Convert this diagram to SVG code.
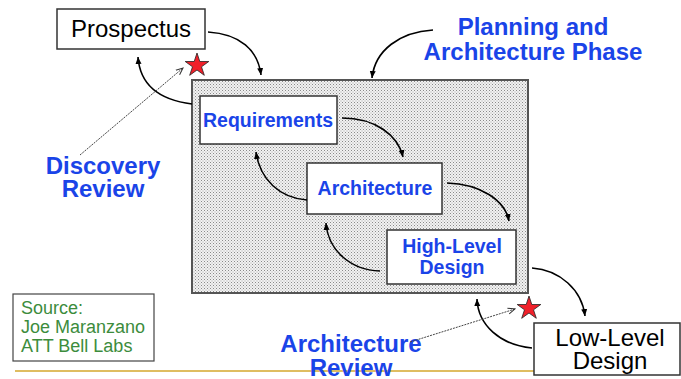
<svg xmlns="http://www.w3.org/2000/svg" width="681" height="379" viewBox="0 0 681 379">
<defs>
<pattern id="dots" width="3" height="3" patternUnits="userSpaceOnUse">
<rect width="3" height="3" fill="#f2f2f2"/>
<rect x="0" y="0" width="1" height="1" fill="#8a8a8a"/>
<rect x="1.5" y="1.5" width="1" height="1" fill="#a8a8a8"/>
</pattern>
<marker id="ah" markerWidth="8" markerHeight="8" refX="7" refY="4" orient="auto" markerUnits="userSpaceOnUse">
<path d="M0,1 L7,4 L0,7 Z" fill="#000"/>
</marker>
<marker id="oh" markerWidth="8" markerHeight="8" refX="7" refY="4" orient="auto" markerUnits="userSpaceOnUse">
<path d="M0,1 L7,4 L0,7" fill="none" stroke="#333" stroke-width="1"/>
</marker>
<style>
.box{fill:#fff;stroke:#333;stroke-width:1.5}
.blue{font-family:"Liberation Sans",Arial,sans-serif;font-weight:bold;fill:#1a44e8;text-anchor:middle}
.blk{font-family:"Liberation Sans",Arial,sans-serif;fill:#000;text-anchor:middle;font-size:24px}
.grn{font-family:"Liberation Sans",Arial,sans-serif;fill:#3c8c3c;font-size:18px}
.c{fill:none;stroke:#000;stroke-width:1.6;marker-end:url(#ah)}
.d{fill:none;stroke:#444;stroke-width:1;stroke-dasharray:2,1;marker-end:url(#oh)}
.star{fill:#f0202a;stroke:#222;stroke-width:0.8}
</style>
</defs>
<line x1="15" y1="371" x2="668" y2="371" stroke="#d4a72c" stroke-width="1.5"/>
<g id="phase">
<rect x="192" y="80" width="336" height="213" fill="url(#dots)" stroke="#555" stroke-width="2"/>
</g>
<g id="prospectus">
<rect class="box" x="57" y="9" width="148" height="40"/>
<text class="blk" x="131" y="37">Prospectus</text>
</g>
<g id="requirements">
<rect class="box" x="200" y="96" width="137" height="48"/>
<text class="blue" x="268" y="127" font-size="19.5">Requirements</text>
</g>
<g id="architecture">
<rect class="box" x="307" y="163" width="135" height="51"/>
<text class="blue" x="375" y="195" font-size="19.5">Architecture</text>
</g>
<g id="hld">
<rect class="box" x="387" y="230" width="129" height="54"/>
<text class="blue" x="452" y="253" font-size="19.5">High-Level</text>
<text class="blue" x="452" y="274" font-size="19.5">Design</text>
</g>
<g id="lld">
<rect class="box" x="534" y="323" width="146" height="52"/>
<text class="blk" x="610" y="346">Low-Level</text>
<text class="blk" x="610" y="369">Design</text>
</g>
<g id="source">
<rect x="13" y="294" width="141" height="67" fill="#fff" stroke="#444" stroke-width="1.2"/>
<text class="grn" x="21" y="314">Source:</text>
<text class="grn" x="21" y="333">Joe Maranzano</text>
<text class="grn" x="21" y="352">ATT Bell Labs</text>
</g>
<g id="planning-label">
<text class="blue" x="533" y="35" font-size="24">Planning and</text>
<text class="blue" x="533" y="60" font-size="24">Architecture Phase</text>
</g>
<g id="discovery-review">
<text class="blue" x="103" y="174" font-size="24">Discovery</text>
<text class="blue" x="103" y="197" font-size="24">Review</text>
<polygon class="star" points="197,53 199.8,61.5 208.8,61.5 201.5,66.8 204.3,75.3 197,70 189.7,75.3 192.5,66.8 185.2,61.5 194.2,61.5"/>
</g>
<g id="architecture-review">
<text class="blue" x="351" y="352" font-size="24">Architecture</text>
<text class="blue" x="351" y="376" font-size="24">Review</text>
<polygon class="star" points="529,296 531.8,304.5 540.8,304.5 533.5,309.8 536.3,318.3 529,313 521.7,318.3 524.5,309.8 517.2,304.5 526.2,304.5"/>
</g>
<g id="connectors">
<path class="c" d="M208,32 C240,34 258,50 261,75"/>
<path class="c" d="M192,104 C160,100 140,85 138,57"/>
<path class="d" d="M80,155 L183,68"/>
<path class="c" d="M433,30 C400,32 375,50 372,78"/>
<path class="c" d="M342,118 C375,118 398,135 403,157"/>
<path class="c" d="M307,200 C280,198 260,180 256,152"/>
<path class="c" d="M447,183 C480,184 505,200 509,221"/>
<path class="c" d="M380,271 C350,270 328,250 326,223"/>
<path class="c" d="M532,268 C560,270 582,290 585,316"/>
<path class="c" d="M532,348 C500,345 478,325 477,299"/>
<path class="d" d="M410,342 L515,309"/>
</g>
</svg>
